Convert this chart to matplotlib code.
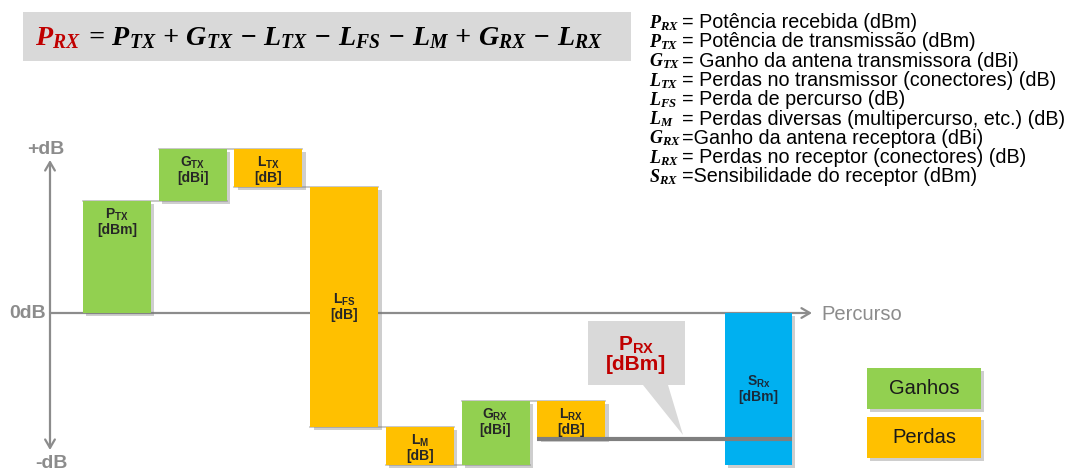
import matplotlib
matplotlib.use("Agg")
import matplotlib.pyplot as plt
import matplotlib.patheffects as pe
from matplotlib.patches import Rectangle, Polygon

plt.rcParams["font.family"] = ["Liberation Sans", "DejaVu Sans"]
plt.rcParams["mathtext.fontset"] = "custom"
plt.rcParams["mathtext.rm"] = "Liberation Sans"
plt.rcParams["mathtext.bf"] = "Liberation Sans:bold"
plt.rcParams["mathtext.it"] = "Liberation Serif:italic"
plt.rcParams["mathtext.bfit"] = "Liberation Serif:italic:bold"

# balanço do enlace (valores ilustrativos em dB)
simbolos = [("P", "TX"), ("G", "TX"), ("L", "TX"), ("L", "FS"),
            ("L", "M"), ("G", "RX"), ("L", "RX")]
unidades = ["[dBm]", "[dBi]", "[dB]", "[dB]", "[dB]", "[dBi]", "[dB]"]
variacao_db = [28, 13, -9.5, -60, -9.5, 16, -9.5]
sensibilidade_rx = -38

legenda_simbolos = [("P", "RX"), ("P", "TX"), ("G", "TX"), ("L", "TX"), ("L", "FS"),
                    ("L", "M"), ("G", "RX"), ("L", "RX"), ("S", "RX")]
legenda_textos = [
    "= Potência recebida (dBm)",
    "= Potência de transmissão (dBm)",
    "= Ganho da antena transmissora (dBi)",
    "= Perdas no transmissor (conectores) (dB)",
    "= Perda de percurso (dB)",
    "= Perdas diversas (multipercurso, etc.) (dB)",
    "=Ganho da antena receptora (dBi)",
    "= Perdas no receptor (conectores) (dB)",
    "=Sensibilidade do receptor (dBm)",
]

VERDE = "#92D050"
LARANJA = "#FFC000"
AZUL = "#00B0F0"
CINZA = "#8c8c8c"
VERMELHO = "#C00000"

sombra = [pe.SimplePatchShadow(offset=(2.5, -2.5), shadow_rgbFace="0.45", alpha=0.35),
          pe.Normal()]

fig = plt.figure(figsize=(10.89, 4.73), dpi=100)
fig.patch.set_facecolor("white")

# eixo dos dados: x em pixels, y em dB
ax = fig.add_axes([0, 0, 1, 1])
ax.set_xlim(0, 1089)
ax.set_ylim(-40, 78.25)
ax.axis("off")

# camada de anotações em pixels (origem no topo)
lay = fig.add_axes([0, 0, 1, 1])
lay.set_xlim(0, 1089)
lay.set_ylim(473, 0)
lay.axis("off")

x0, passo, largura = 83, 75.7, 68
xs = [x0 + i * passo for i in range(len(variacao_db))]

niveis = [0]
for v in variacao_db:
    niveis.append(niveis[-1] + v)
bases = niveis[:-1]
cores = [VERDE if v > 0 else LARANJA for v in variacao_db]

# eixo horizontal (0 dB)
ax.annotate("", xy=(812, 0), xytext=(50, 0),
            arrowprops=dict(arrowstyle="->,head_length=0.6,head_width=0.35",
                            color=CINZA, lw=1.6, shrinkA=0, shrinkB=0), zorder=1)

# linhas de ligação entre degraus
for i in range(len(xs) - 1):
    ax.plot([xs[i], xs[i + 1] + largura], [niveis[i + 1]] * 2,
            color="#bfbfbf", lw=1.2, zorder=2)

barras = ax.bar(xs, variacao_db, bottom=bases, width=largura, align="edge",
                color=cores, zorder=3)
for b in barras:
    b.set_path_effects(sombra)

x_srx = 725
srx = ax.bar([x_srx], [sensibilidade_rx], bottom=0, width=67, align="edge",
             color=AZUL, zorder=3)
srx[0].set_path_effects(sombra)

# nível de P_RX
ax.plot([xs[-1], x_srx + 67], [niveis[-1]] * 2, color="#7f7f7f", lw=3, zorder=5,
        solid_capstyle="butt")

# rótulos das barras
for x, v, b, (letra, sub), un in zip(xs, variacao_db, bases, simbolos, unidades):
    rotulo = r"$\mathbf{%s}_{\mathbf{%s}}$" % (letra, sub) + "\n" + un
    if abs(v) > 40:
        ax.text(x + largura / 2, b + v / 2, rotulo, ha="center", va="center",
                fontsize=10, fontweight="bold", color="#262626", linespacing=1.0,
                zorder=6)
    else:
        topo = max(b, b + v)
        ax.annotate(rotulo, (x + largura / 2, topo), xytext=(0, -4),
                    textcoords="offset points", ha="center", va="top",
                    fontsize=10, fontweight="bold", color="#262626",
                    linespacing=1.0, zorder=6)

ax.text(x_srx + 67 / 2, sensibilidade_rx / 2, r"$\mathbf{S}_{\mathbf{Rx}}$" + "\n[dBm]",
        ha="center", va="center", fontsize=10, fontweight="bold", color="#1a2a3a",
        linespacing=1.0, zorder=6)

# eixo vertical e rótulos
lay.annotate("", xy=(50, 160), xytext=(50, 450),
             arrowprops=dict(arrowstyle="<->,head_length=0.6,head_width=0.35",
                             color=CINZA, lw=1.6, shrinkA=0, shrinkB=0))
lay.text(46, 149, "+dB", ha="center", va="center", fontsize=14, fontweight="bold", color=CINZA)
lay.text(28, 313, "0dB", ha="center", va="center", fontsize=14, fontweight="bold", color=CINZA)
lay.text(51, 463, "-dB", ha="center", va="center", fontsize=14, fontweight="bold", color=CINZA)
lay.text(821, 314, "Percurso", ha="left", va="center", fontsize=14.5, color=CINZA)

# balão de P_RX
balao = Polygon([(588, 321), (685, 321), (685, 385), (668, 385), (683, 435),
                 (643, 385), (588, 385)], closed=True, facecolor="#D9D9D9",
                edgecolor="none")
lay.add_patch(balao)
lay.text(636, 354, r"$\mathbf{P}_{\mathbf{RX}}$" + "\n[dBm]", ha="center", va="center",
         fontsize=15, fontweight="bold", color=VERMELHO, linespacing=1.0)

# legenda de cores
for y, cor, txt in [(368, VERDE, "Ganhos"), (417, LARANJA, "Perdas")]:
    r = Rectangle((867, y), 114, 41, facecolor=cor, edgecolor="none")
    r.set_path_effects(sombra)
    lay.add_patch(r)
    lay.text(924, y + 20.5, txt, ha="center", va="center", fontsize=14.5, color="#1a1a1a")

# fórmula
lay.add_patch(Rectangle((23, 12), 608, 49, facecolor="#D9D9D9", edgecolor="none"))
t_prx = lay.text(35, 45, r"$\mathbfit{P_{RX}}$", ha="left", va="baseline",
                 fontsize=20.2, color=VERMELHO)
lay.annotate(r"$\mathbfit{\,=\,P_{TX}\,+\,G_{TX}\,-\,L_{TX}\,-\,L_{FS}\,-\,L_{M}\,+\,G_{RX}\,-\,L_{RX}}$",
             xy=(1, 0), xycoords=t_prx, ha="left", va="bottom",
             fontsize=20.2, color="black")

# descrição dos símbolos
for i, ((letra, sub), txt) in enumerate(zip(legenda_simbolos, legenda_textos)):
    yb = 28 + i * 19.3
    lay.text(649, yb, r"$\mathbfit{%s_{%s}}$" % (letra, sub), ha="left", va="baseline",
             fontsize=13, color="black")
    lay.text(682, yb, txt, ha="left", va="baseline", fontsize=14.2, color="black")

fig.savefig("out.png", dpi=100, facecolor="white")
